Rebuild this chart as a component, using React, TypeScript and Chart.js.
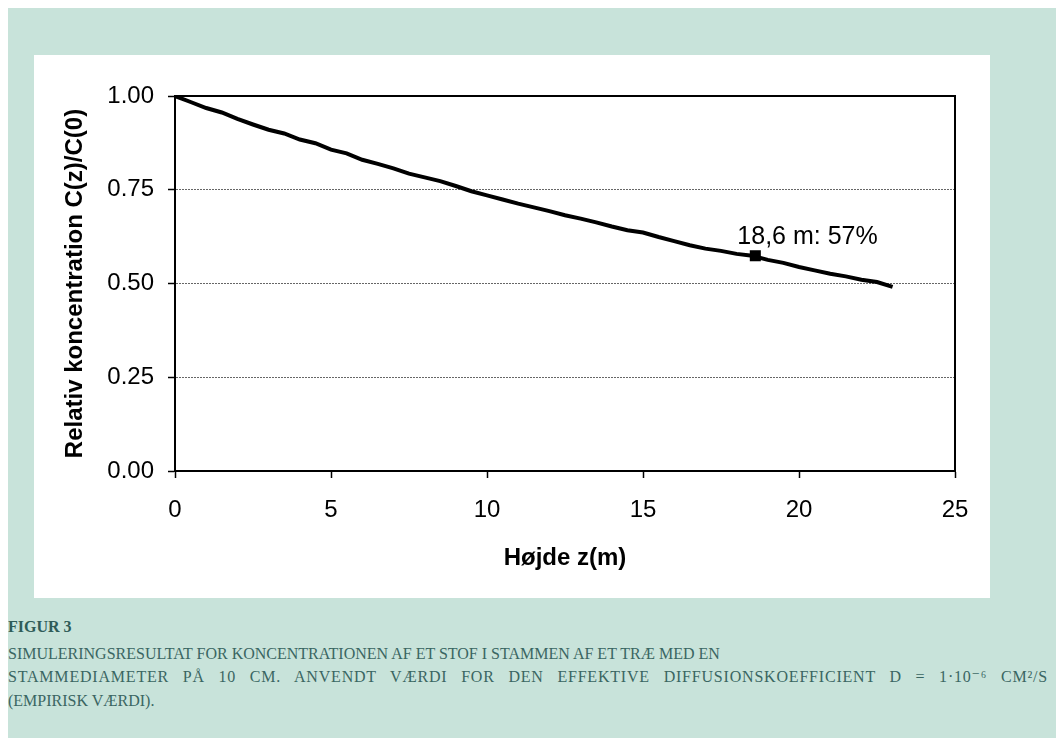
import React, { useEffect, useRef } from "react";
import { Chart, registerables } from "chart.js";

Chart.register(...registerables);

// ---- data ----
const heightsM = [
  0, 0.5, 1, 1.5, 2, 2.5, 3, 3.5, 4, 4.5, 5, 5.5, 6, 6.5, 7, 7.5, 8, 8.5, 9, 9.5,
  10, 10.5, 11, 11.5, 12, 12.5, 13, 13.5, 14, 14.5, 15, 15.5, 16, 16.5, 17, 17.5,
  18, 18.5, 19, 19.5, 20, 20.5, 21, 21.5, 22, 22.5, 23,
];
const relConc = [
  1.0, 0.984, 0.968, 0.956, 0.939, 0.924, 0.91, 0.9, 0.884, 0.874, 0.857, 0.847,
  0.83, 0.819, 0.807, 0.793, 0.783, 0.773, 0.76, 0.746, 0.735, 0.724, 0.713, 0.703,
  0.693, 0.682, 0.673, 0.663, 0.652, 0.642, 0.636, 0.624, 0.613, 0.602, 0.593, 0.587,
  0.579, 0.574, 0.563, 0.555, 0.544, 0.535, 0.526, 0.519, 0.51, 0.504, 0.491,
];
const markerHeight = [18.6];
const markerConc = [0.574];
const markerLabel = "18,6 m: 57%";

const xMin = 0;
const xMax = 25;
const xStep = 5;
const yMin = 0;
const yMax = 1;
const yStep = 0.25;

const xTitle = "Højde z(m)";
const yTitle = "Relativ koncentration C(z)/C(0)";

const captionTitle = "FIGUR 3";
const captionLines = [
  "SIMULERINGSRESULTAT FOR KONCENTRATIONEN AF ET STOF I STAMMEN AF ET TRÆ MED EN",
  "STAMMEDIAMETER PÅ 10 CM. ANVENDT VÆRDI FOR DEN EFFEKTIVE DIFFUSIONSKOEFFICIENT D = 1·10⁻⁶ CM²/S",
  "(EMPIRISK VÆRDI).",
];
const captionJustified = [false, true, false];

const FONT = "'Liberation Sans', Arial, sans-serif";
const SERIF = "'Liberation Serif', 'DejaVu Serif', serif";

const framePlugin = {
  id: "frame",
  beforeDatasetsDraw(chart: any) {
    const { ctx, chartArea } = chart;
    ctx.save();
    ctx.strokeStyle = "#000";
    ctx.lineWidth = 2;
    ctx.strokeRect(chartArea.left, chartArea.top, chartArea.right - chartArea.left, chartArea.bottom - chartArea.top);
    ctx.restore();
  },
  afterDatasetsDraw(chart: any) {
    const { ctx, scales } = chart;
    const px = scales.x.getPixelForValue(markerHeight[0]);
    const py = scales.y.getPixelForValue(markerConc[0]);
    ctx.save();
    ctx.fillStyle = "#000";
    ctx.font = `25px ${FONT}`;
    ctx.textAlign = "left";
    ctx.textBaseline = "alphabetic";
    ctx.fillText(markerLabel, px - 18, py - 12);
    ctx.restore();
  },
};

function ChartCanvas() {
  const ref = useRef<HTMLCanvasElement | null>(null);
  useEffect(() => {
    if (!ref.current) return;
    const chart = new Chart(ref.current, {
      type: "line",
      data: {
        datasets: [
          {
            type: "line",
            data: heightsM.map((h, i) => ({ x: h, y: relConc[i] })),
            borderColor: "#000",
            borderWidth: 4,
            pointRadius: 0,
            tension: 0,
            fill: false,
          },
          {
            type: "scatter",
            data: markerHeight.map((h, i) => ({ x: h, y: markerConc[i] })),
            backgroundColor: "#000",
            borderColor: "#000",
            pointStyle: "rect",
            pointRadius: 7.8,
            borderWidth: 0,
          } as any,
        ],
      },
      options: {
        responsive: false,
        animation: false,
        events: [],
        layout: { padding: { top: 41, right: 35, left: 0, bottom: 0 } },
        plugins: { legend: { display: false }, tooltip: { enabled: false } },
        scales: {
          x: {
            type: "linear",
            min: xMin,
            max: xMax,
            afterFit: (s: any) => {
              s.height = 127;
            },
            ticks: {
              stepSize: xStep,
              color: "#000",
              font: { family: FONT, size: 24 },
              padding: 18,
              maxRotation: 0,
            },
            grid: {
              drawOnChartArea: false,
              drawTicks: true,
              tickLength: 7,
              tickColor: "#000",
              tickWidth: 1.5,
            },
            border: { display: true, color: "#000", width: 2 },
            title: {
              display: true,
              text: xTitle,
              color: "#000",
              font: { family: FONT, size: 24, weight: "bold" },
              padding: { top: 0, bottom: 25 },
            },
          },
          y: {
            type: "linear",
            min: yMin,
            max: yMax,
            afterFit: (s: any) => {
              s.width = 141;
            },
            ticks: {
              stepSize: yStep,
              color: "#000",
              font: { family: FONT, size: 24 },
              padding: 14,
              callback: (v: any) => Number(v).toFixed(2),
            },
            grid: {
              drawOnChartArea: true,
              color: "#666",
              lineWidth: 1,
              drawTicks: true,
              tickLength: 7,
              tickColor: "#000",
              tickWidth: 1.5,
              tickBorderDash: [],
            },
            border: { display: true, color: "#000", width: 2, dash: [2, 1] },
            title: {
              display: true,
              text: yTitle,
              color: "#000",
              font: { family: FONT, size: 24, weight: "bold" },
              padding: { top: 27, bottom: 0 },
            },
          },
        },
      },
      plugins: [framePlugin],
    } as any);
    return () => chart.destroy();
  }, []);
  return <canvas ref={ref} width={956} height={543} style={{ display: "block", width: 956, height: 543 }} />;
}

export default function App() {
  const captionCenters = [646, 669, 693];
  return (
    <div
      style={{
        position: "absolute",
        left: 8,
        top: 8,
        width: 1048,
        height: 730,
        background: "#c8e3da",
        overflow: "hidden",
      }}
    >
      <div style={{ position: "absolute", left: 26, top: 47, width: 956, height: 543, background: "#fff" }}>
        <ChartCanvas />
      </div>
      <div
        style={{
          position: "absolute",
          left: 0,
          top: 607,
          fontFamily: SERIF,
          fontWeight: "bold",
          fontSize: 16,
          lineHeight: "24px",
          color: "#2f5c58",
          whiteSpace: "nowrap",
        }}
      >
        {captionTitle}
      </div>
      {captionLines.map((t, i) => (
        <div
          key={i}
          style={{
            position: "absolute",
            left: 0,
            top: captionCenters[i] - 12,
            width: captionJustified[i] ? 1040 : undefined,
            fontFamily: SERIF,
            fontSize: 16,
            lineHeight: "24px",
            letterSpacing: captionJustified[i] ? "0.8px" : "0px",
            color: "#3a6662",
            whiteSpace: captionJustified[i] ? "normal" : "nowrap",
            textAlign: captionJustified[i] ? "justify" : "left",
            textAlignLast: captionJustified[i] ? "justify" : "auto",
          } as any}
        >
          {t}
        </div>
      ))}
    </div>
  );
}
